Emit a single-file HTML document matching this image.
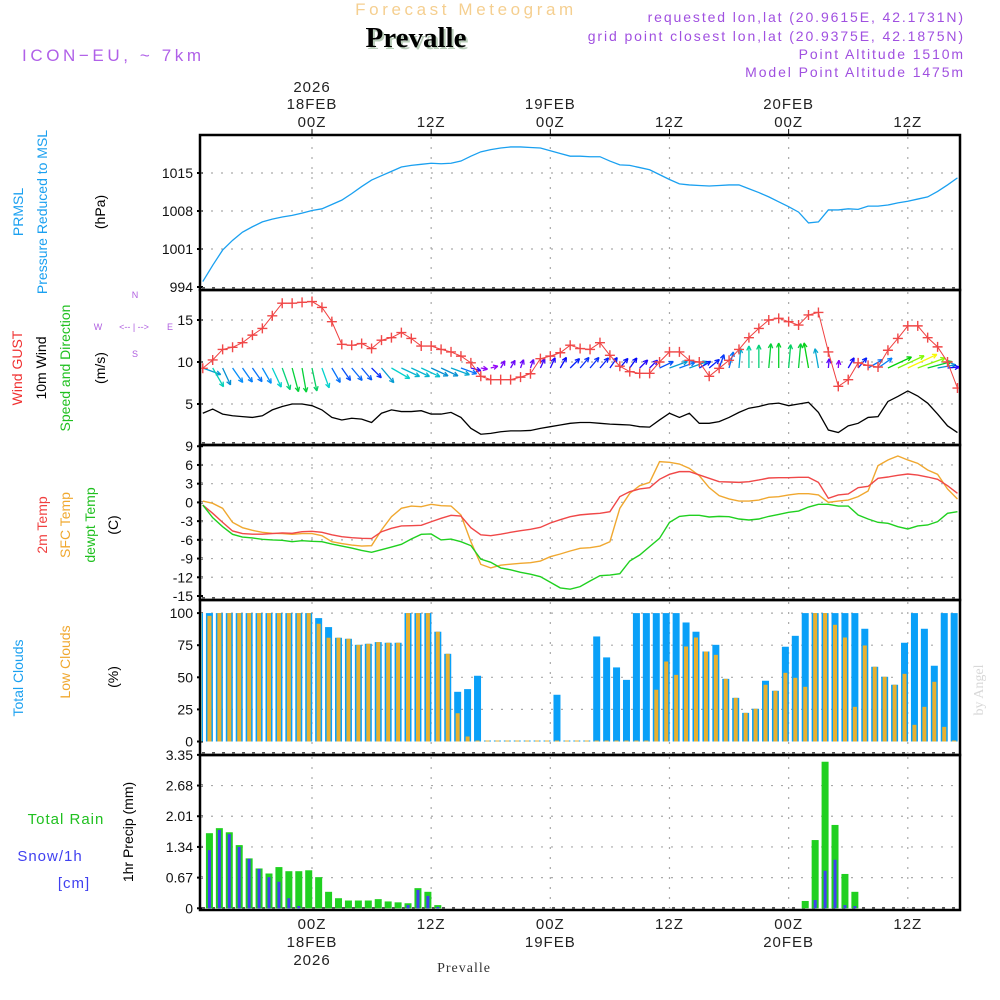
<!DOCTYPE html>
<html><head><meta charset="utf-8"><title>Meteogram Prevalle</title>
<style>
html,body{margin:0;padding:0;background:#fff;}
svg{display:block;font-family:"Liberation Sans",sans-serif;}
</style></head>
<body>
<svg id="chart" width="1000" height="1000" viewBox="0 0 1000 1000" xmlns="http://www.w3.org/2000/svg">
<defs>
<clipPath id="c1"><rect x="201" y="136" width="758" height="153"/></clipPath>
<clipPath id="c2"><rect x="201" y="291" width="758" height="153"/></clipPath>
<clipPath id="c3"><rect x="201" y="446" width="758" height="153"/></clipPath>
<clipPath id="c4"><rect x="201" y="601" width="758" height="153"/></clipPath>
<clipPath id="c5"><rect x="201" y="756" width="758" height="153"/></clipPath>
</defs>
<rect width="1000" height="1000" fill="#fff"/>
<g>
<text x="466" y="15" text-anchor="middle" font-size="17" letter-spacing="3.6" fill="#f5cf90">Forecast Meteogram</text>
<text x="418" y="49" text-anchor="middle" font-family="Liberation Serif,serif" font-weight="bold" font-size="29" fill="#b8ccb8">Prevalle</text>
<text x="416" y="47" text-anchor="middle" font-family="Liberation Serif,serif" font-weight="bold" font-size="29" fill="#000">Prevalle</text>
<text x="22" y="61" font-size="17" letter-spacing="3.6" fill="#b060e8">ICON−EU, ~ 7km</text>
<g font-size="14" letter-spacing="1.9" fill="#a050e0" text-anchor="end">
<text x="965" y="22">requested lon,lat (20.9615E, 42.1731N)</text>
<text x="965" y="41">grid point closest lon,lat (20.9375E, 42.1875N)</text>
<text x="965" y="59">Point Altitude 1510m</text>
<text x="965" y="77">Model Point Altitude 1475m</text>
</g>
<text transform="translate(983,690) rotate(-90)" text-anchor="middle" font-family="Liberation Serif,serif" font-size="14" fill="#d8d8d8">by Angel</text>
<text x="464" y="972" text-anchor="middle" font-family="Liberation Serif,serif" font-size="14" fill="#333" letter-spacing="1">Prevalle</text>
</g>
<g id="frames"></g>
<g id="marks"></g>
<g id="labels" font-size="14" fill="#111"></g>
</svg>
<script>
// ---- data (hourly, index 0..76, hours relative to 00Z 18FEB = i-11) ----
const timeLabels = ["00Z","12Z","00Z","12Z","00Z","12Z"];
const timeHours = [0,12,24,36,48,60];
const dateLabels = ["18FEB","19FEB","20FEB"];
const pressure = [995.0,998.0,1000.8,1002.6,1004.1,1005.1,1006.0,1006.5,1006.9,1007.2,1007.6,1008.1,1008.4,1009.2,1010.0,1011.2,1012.5,1013.7,1014.5,1015.3,1016.1,1016.4,1016.6,1016.8,1016.7,1016.8,1017.2,1018.1,1018.9,1019.3,1019.6,1019.8,1019.8,1019.7,1019.6,1019.1,1018.6,1018.1,1018.1,1018.0,1018.0,1017.2,1016.5,1016.4,1016.0,1015.6,1014.7,1013.8,1013.0,1012.8,1012.7,1012.6,1012.7,1012.8,1012.8,1012.1,1011.4,1010.6,1009.7,1008.8,1007.8,1005.8,1006.0,1008.2,1008.2,1008.4,1008.3,1008.9,1008.9,1009.1,1009.5,1009.8,1010.2,1010.6,1011.6,1012.8,1014.1];
const gust = [9.25,10.24,11.5,11.75,12.3,13.2,14.0,15.5,17.0,17.0,17.1,17.2,16.5,14.8,12.1,12.0,12.2,11.6,12.6,12.9,13.5,12.8,11.9,11.9,11.5,11.2,10.7,9.9,8.3,7.9,7.9,7.9,8.2,8.6,10.4,10.7,11.1,12.0,11.6,11.5,12.3,10.8,9.5,8.85,8.65,8.65,10.0,11.2,11.2,10.2,10.0,8.3,9.25,10.2,11.5,12.9,14.0,15.0,15.2,14.8,14.4,15.6,15.9,11.2,7.1,7.9,9.9,9.6,9.4,11.4,12.8,14.3,14.3,12.9,11.8,10.0,6.9];
const windSpeed = [3.9,4.4,3.8,3.6,3.5,3.4,3.6,4.3,4.7,5.0,5.0,4.8,4.3,3.4,3.1,3.3,3.2,2.8,3.9,4.3,4.1,4.1,4.2,3.8,3.8,4.0,3.4,2.1,1.4,1.5,1.7,1.8,1.8,1.85,2.1,2.3,2.5,2.7,2.8,2.8,2.7,2.6,2.55,2.5,2.3,2.25,3.1,3.9,3.4,3.9,2.7,2.7,2.9,3.4,4.0,4.5,4.7,5.0,5.1,4.8,5.0,5.2,4.0,1.9,1.6,2.4,2.7,3.4,3.5,5.3,5.9,6.55,5.95,5.1,3.8,2.4,1.6];
const windDir = [110,150,155,145,145,145,150,155,160,165,170,168,160,150,145,140,140,135,140,120,115,115,115,115,115,110,110,105,100,75,30,30,20,20,25,25,30,45,40,40,40,35,40,35,45,45,65,70,70,70,60,50,20,15,5,0,0,5,0,5,5,-10,-10,5,5,30,40,60,55,65,65,65,70,75,80,85,95];
const temp2m = [-0.42,-1.75,-3.2,-4.58,-5.0,-5.1,-5.1,-5.0,-4.9,-4.96,-4.7,-4.64,-4.8,-5.2,-5.5,-5.65,-5.76,-5.8,-4.7,-4.16,-3.78,-3.73,-3.67,-3.1,-2.55,-2.07,-2.18,-4.05,-5.2,-5.33,-5.1,-4.8,-4.53,-4.32,-4.0,-3.3,-2.77,-2.29,-2.0,-1.86,-1.75,-1.49,0.92,1.72,2.15,2.36,3.7,4.5,4.93,4.93,4.4,3.86,3.32,3.27,3.21,3.32,3.59,3.91,3.96,3.96,4.02,4.02,3.21,0.65,1.19,1.35,2.36,2.57,3.86,4.07,4.34,4.55,4.39,4.07,3.7,2.68,1.45];
const tempSfc = [0.22,-0.15,-0.95,-3.2,-4.05,-4.48,-4.8,-4.96,-5.0,-5.12,-5.0,-5.0,-5.33,-6.3,-6.6,-6.83,-6.99,-6.93,-4.42,-2.29,-0.95,-0.58,-0.68,-0.31,-0.52,-0.58,-2.02,-6.3,-9.93,-10.5,-10.07,-9.9,-9.76,-9.66,-9.4,-8.7,-8.27,-7.79,-7.36,-7.25,-6.99,-6.3,-0.95,1.45,2.68,3.21,6.53,6.42,6.15,5.46,4.29,2.36,1.08,0.55,0.22,0.22,0.38,0.81,0.92,1.19,1.4,1.4,1.19,0.01,0.22,0.38,0.92,1.83,5.89,6.8,7.44,6.8,6.26,5.19,4.5,2.15,0.55];
const tempDew = [-0.42,-2.45,-3.89,-5.12,-5.55,-5.7,-5.92,-6.02,-6.08,-6.3,-6.14,-6.24,-6.3,-6.67,-6.99,-7.31,-7.69,-8.0,-7.57,-7.15,-6.72,-5.87,-5.12,-5.06,-6.02,-5.87,-6.3,-6.93,-9.1,-9.6,-10.5,-10.8,-11.2,-11.5,-11.9,-12.8,-13.7,-13.9,-13.5,-12.6,-11.74,-11.64,-11.42,-9.39,-8.43,-7.09,-5.76,-3.2,-2.24,-2.07,-2.07,-2.34,-2.24,-2.29,-2.66,-2.82,-2.66,-2.24,-1.92,-1.59,-1.38,-0.74,-0.31,-0.31,-0.58,-0.58,-2.02,-2.66,-3.2,-3.35,-3.89,-4.26,-3.78,-3.62,-3.09,-1.75,-1.49];
const totalCloud = [100,100,100,100,100,100,100,100,100,100,100,100,96.1,89.1,80.8,80,75.3,76.1,77.4,76.9,76.9,100,100,100,85.5,68.3,38.7,40.8,51.2,0,0,0,0,0,0,0,36.4,0,0,0,81.8,65.5,57.7,48,100,100,100,100,100,92.7,85.5,70.1,75.3,48.8,34,22.3,25.5,47.3,39.5,73.8,82.3,100,100,100,100,100,100,87.8,58.2,50.4,44.2,76.9,100,87.8,59,100,100];
const lowCloud = [100,97.9,100,100,100,100,100,100,100,100,100,100,91.7,80.8,80.8,80,75.3,76.1,77.4,76.9,76.9,100,100,100,85.5,68.3,22,3.9,0,0,0,0,0,0,0,0,0,0,0,0,0,0,0,0,0,0,40.3,62.3,51.9,74,81,70.1,67.5,48.8,34,22.3,25.5,44.2,39.5,53.5,49.6,42.6,100,100,90.9,81,27,74.8,58.2,50.4,44.2,52.7,13,27,46.5,11.4,0];
const rain = [0,1.64,1.75,1.66,1.38,1.09,0.87,0.76,0.9,0.81,0.81,0.83,0.68,0.36,0.22,0.17,0.17,0.17,0.2,0.15,0.13,0.11,0.44,0.36,0.07,0,0,0,0,0,0,0,0,0,0,0,0,0,0,0,0,0,0,0,0,0,0,0,0,0,0,0,0,0,0,0,0,0,0,0,0,0.16,1.49,3.2,1.82,0.75,0.36,0,0,0,0,0,0,0,0,0,0];
const snow = [0,1.27,1.71,1.62,1.34,1.08,0.86,0.68,0.58,0.22,0.05,0,0,0,0,0,0,0,0,0,0,0.07,0.4,0.27,0.03,0,0,0,0,0,0,0,0,0,0,0,0,0,0,0,0,0,0,0,0,0,0,0,0,0,0,0,0,0,0,0,0,0,0,0,0,0,0.18,0.82,1.06,0.07,0.05,0,0,0,0,0,0,0,0,0,0];
const pTicks = [994,1001,1008,1015];
const wTicks = [5,10,15];
const tTicks = [9,6,3,0,-3,-6,-9,-12,-15];
const cTicks = [0,25,50,75,100];
const rTicks = ["0","0.67","1.34","2.01","2.68","3.35"];

// ---- scales ----
const xH = h => 312 + 9.93*h;
const xLine = i => xH(i - 11);
const xBar = i => xH(i - 11.33);
const yP = v => 173 - (v-1015)*38/7;
const yW = v => 446 - v*8.4;
const yT = v => 502.4 - v*6.24;
const yC = v => 741.5 - v*1.284;
const yR = v => 908.3 - v*45.8;

const NS = "http://www.w3.org/2000/svg";
function mk(tag, attrs, parent){const e=document.createElementNS(NS,tag);for(const k in attrs)e.setAttribute(k,attrs[k]);parent.appendChild(e);return e;}
const frames=document.getElementById('frames'), marks=document.getElementById('marks'), labels=document.getElementById('labels');
const panels=[[135,290,'c1'],[290,445,'c2'],[445,600,'c3'],[600,755,'c4'],[755,910,'c5']];
const grid='#aaa';

function hgrid(y, g){const l=mk('line',{x1:201,x2:959,y1:y,y2:y,stroke:grid,'stroke-width':1.2,'stroke-dasharray':'2,8'},g);
 
 }
function ylab(txt,y,color){const t=mk('text',{x:193,y:y+5,'text-anchor':'end',fill:color||'#111','font-size':14},labels);t.textContent=txt;
 
 
 const tk=mk('line',{x1:197,x2:203,y1:y,y2:y,stroke:'#000','stroke-width':2},frames);
 
 }

panels.forEach((p,pi)=>{
  const g=mk('g',{},marks);
  
  
  timeHours.forEach(h=>{const l=mk('line',{x1:xH(h),x2:xH(h),y1:p[0]+2,y2:p[1]-2,stroke:grid,'stroke-width':1.2,'stroke-dasharray':'2,8'},g);
    
    });
  const tk=mk('line',{x1:202,x2:958,y1:p[1]-2,y2:p[1]-2,stroke:'#555','stroke-width':2,'stroke-dasharray':'3,7'},g);
  
  
});

// ---- panel 1 pressure ----
(function(){
 const g=mk('g',{'clip-path':'url(#c1)'},marks);
 
 
 pTicks.forEach(v=>{if(v!==994)hgrid(yP(v),g);ylab(String(v),yP(v));});
 const pl=mk('polyline',{points:pressure.map((v,i)=>xLine(i)+','+yP(v)).join(' '),fill:'none',stroke:'#1aa0f0','stroke-width':1.3},g);
 
 
})();

// ---- panel 2 wind ----
(function(){
 const g=mk('g',{'clip-path':'url(#c2)'},marks);
 
 
 wTicks.forEach(v=>{hgrid(yW(v),g);ylab(String(v),yW(v));});
 const sp=mk('polyline',{points:windSpeed.map((v,i)=>xLine(i)+','+yW(v)).join(' '),fill:'none',stroke:'#000','stroke-width':1.3},g);
 
 
 function hue(s){const st=[[1.5,275],[2.5,240],[3.5,210],[4.2,185],[5,135],[6.5,60]];if(s<=st[0][0])return st[0][1];for(let k=1;k<st.length;k++){if(s<=st[k][0]){const a=st[k-1],b=st[k];return a[1]+(b[1]-a[1])*(s-a[0])/(b[0]-a[0]);}}return 60;}
 windDir.forEach((d,i)=>{
   const s=windSpeed[i], L=4.9*s, r=d*Math.PI/180, x0=xLine(i), y0=368;
   const x1=x0+L*Math.sin(r), y1=y0-L*Math.cos(r);
   const hh=hue(s);
   const col='hsl('+hh+',95%,'+(hh>100&&hh<200?'42%':'50%')+')';
   const ag=mk('g',{stroke:col,'stroke-width':1.3,fill:'none'},g);
   
   
   mk('line',{x1:x0,y1:y0,x2:x1,y2:y1},ag);
   [0.45,-0.45].forEach(o=>{const rr=r+Math.PI+o;mk('line',{x1:x1,y1:y1,x2:x1+5*Math.sin(rr),y2:y1-5*Math.cos(rr)},ag);});
 });
 const gl=mk('polyline',{points:gust.map((v,i)=>xLine(i)+','+yW(v)).join(' '),fill:'none',stroke:'#f04040','stroke-width':1},g);
 
 
 gust.forEach((v,i)=>{const x=xLine(i),y=yW(v);
   const c=mk('path',{d:'M'+(x-5)+' '+y+'H'+(x+5)+'M'+x+' '+(y-5)+'V'+(y+5),stroke:'#f04848','stroke-width':1.4},g);
   
   });
})();

// ---- panel 3 temps ----
(function(){
 const g=mk('g',{'clip-path':'url(#c3)'},marks);
 
 
 tTicks.forEach(v=>{if(v!==9&&v!==-15)hgrid(yT(v),g);ylab(String(v),yT(v));});
 [[tempSfc,'#f0a830','sfc-temp-line'],[temp2m,'#f04848','temp-2m-line'],[tempDew,'#20d020','dewpoint-line']].forEach(s=>{
   const l=mk('polyline',{points:s[0].map((v,i)=>xLine(i)+','+yT(v)).join(' '),fill:'none',stroke:s[1],'stroke-width':1.4},g);
   
   
 });
})();

// ---- panel 4 clouds ----
(function(){
 const g=mk('g',{'clip-path':'url(#c4)'},marks);
 
 
 cTicks.forEach(v=>{if(v!==0)hgrid(yC(v),g);ylab(String(v),yC(v));});
 totalCloud.forEach((v,i)=>{const x=xBar(i),y=yC(v),h=Math.max(1,yC(0)-y);
   const b=mk('rect',{x:x-3.5,y:yC(0)-h,width:7,height:h,fill:'#0aa0f8'},g);
   
   });
 lowCloud.forEach((v,i)=>{const x=xBar(i),y=yC(v),h=Math.max(1,yC(0)-y);
   const b=mk('rect',{x:x-2,y:yC(0)-h,width:4,height:h,fill:'#e8b030'},g);
   
   });
})();

// ---- panel 5 precip ----
(function(){
 const g=mk('g',{'clip-path':'url(#c5)'},marks);
 
 
 rTicks.forEach(t=>{const v=parseFloat(t);if(v>0&&v<3.3)hgrid(yR(v),g);ylab(t,yR(v));});
 rain.forEach((v,i)=>{if(v<=0)return;const y=yR(v);
   const b=mk('rect',{x:xBar(i)-3.5,y:y,width:7,height:yR(0)-y,fill:'#20d020'},g);
   
   });
 snow.forEach((v,i)=>{if(v<=0)return;const y=yR(v);
   const b=mk('rect',{x:xBar(i)-1.5,y:y,width:3,height:yR(0)-y,fill:'#4040f0'},g);
   
   });
})();

// ---- frames ----
panels.forEach((p,pi)=>{const r=mk('rect',{x:200,y:p[0],width:760,height:p[1]-p[0],fill:'none',stroke:'#000','stroke-width':2.5},frames);
 
 });

// ---- time axis labels ----
function txt(s,x,y,attrs,name){const t=mk('text',Object.assign({x:x,y:y,'text-anchor':'middle','font-size':15,fill:'#222','letter-spacing':1},attrs||{}),labels);t.textContent=s;
 
 return t;}
timeHours.forEach((h,k)=>{
 txt(timeLabels[k],xH(h),127,{},'top-time-label');
 txt(timeLabels[k],xH(h),929,{},'bottom-time-label');
 const tk=mk('line',{x1:xH(h),x2:xH(h),y1:129,y2:135,stroke:'#000'},frames);
 
 
 if(h%24===0){const d=dateLabels[h/24];
   txt(d,xH(h),109,{},'top-date-label');
   txt(d,xH(h),947,{},'bottom-date-label');}
});
txt('2026',xH(0),92,{},'top-year-label');
txt('2026',xH(0),965,{},'bottom-year-label');

// ---- left-side rotated labels ----
function rot(s,x,y,color,name,size){const t=mk('text',{transform:'translate('+x+','+y+') rotate(-90)','text-anchor':'middle','font-size':size||14,fill:color},labels);t.textContent=s;
 
 }
rot('PRMSL',23,212,'#1aa0f0','pressure-title-short');
rot('Pressure Reduced to MSL',47,212,'#1aa0f0','pressure-title-long');
rot('(hPa)',105,212,'#000','pressure-unit');
rot('Wind GUST',22,368,'#f03030','gust-title');
rot('10m Wind',46,368,'#000','wind-title');
rot('Speed and Direction',70,368,'#20c020','wind-dir-title');
rot('(m/s)',105,368,'#000','wind-unit');
rot('2m Temp',47,525,'#f04040','temp2m-title');
rot('SFC Temp',70,525,'#f0a830','sfc-temp-title');
rot('dewpt Temp',95,525,'#20c020','dewpoint-title');
rot('(C)',118,525,'#000','temp-unit');
rot('Total Clouds',23,678,'#1aa0f0','total-cloud-title');
rot('Low Clouds',70,662,'#f0a830','low-cloud-title');
rot('(%)',118,677,'#000','cloud-unit');
rot('1hr Precip (mm)',133,832,'#000','precip-unit');
txt('Total  Rain',66,824,{fill:'#20c020'},'rain-title');
txt('Snow/1h',50,861,{fill:'#4040f0'},'snow-title');
txt('[cm]',74,888,{fill:'#4040f0'},'snow-unit');
const cg=mk('g',{fill:'#b060e0','font-size':9,'text-anchor':'middle'},labels);


[['N',135,298],['E',170,330],['S',135,357],['W',98,330],['<-- | -->',134,330]].forEach(a=>{const t=mk('text',{x:a[1],y:a[2]},cg);t.textContent=a[0];});
</script>
</body></html>
